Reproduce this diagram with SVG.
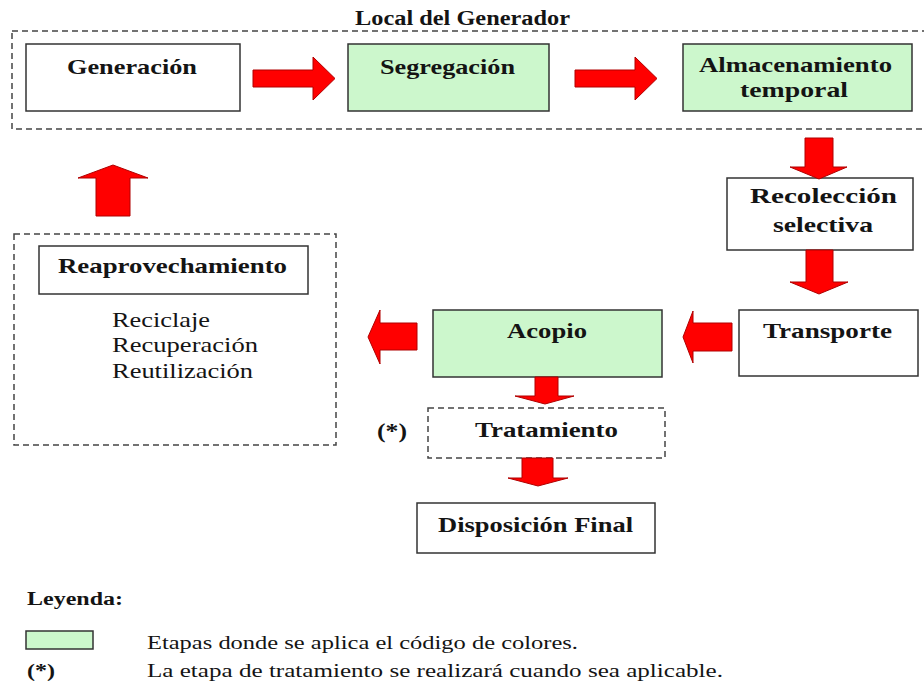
<svg xmlns="http://www.w3.org/2000/svg" width="924" height="688" viewBox="0 0 924 688" font-family="Liberation Serif, Times New Roman, serif">
<style>
.box{fill:#ffffff;stroke:#333333;stroke-width:1.5}
.green{fill:#ccf7cc;stroke:#333333;stroke-width:1.5}
.dash{fill:none;stroke:#444444;stroke-width:1.5;stroke-dasharray:6,4}
.arrow{fill:#ff0000;stroke:#b00000;stroke-width:1}
text{font-family:"Liberation Serif",serif}
.b{font-weight:bold;fill:#141414}
.r{font-weight:normal;fill:#141414}
</style>
<rect width="924" height="688" fill="#ffffff"/>

<g id="local-generador">
<rect class="dash" x="12" y="31" width="916" height="98"/>
<text class="b" x="355" y="25" font-size="20" textLength="215" lengthAdjust="spacingAndGlyphs">Local del Generador</text>
</g>

<g id="generacion">
<rect class="box" x="26" y="44" width="214" height="67"/>
<text class="b" x="67" y="74" font-size="22" textLength="130" lengthAdjust="spacingAndGlyphs">Generación</text>
</g>

<g id="segregacion">
<rect class="green" x="348" y="44" width="201" height="67"/>
<text class="b" x="380" y="74" font-size="22" textLength="135" lengthAdjust="spacingAndGlyphs">Segregación</text>
</g>

<g id="almacenamiento">
<rect class="green" x="683" y="44" width="229" height="67"/>
<text class="b" x="699" y="72" font-size="22" textLength="193" lengthAdjust="spacingAndGlyphs">Almacenamiento</text>
<text class="b" x="740" y="97" font-size="22" textLength="108" lengthAdjust="spacingAndGlyphs">temporal</text>
</g>

<g id="recoleccion">
<rect class="box" x="727" y="178" width="186" height="72"/>
<text class="b" x="750" y="203" font-size="22" textLength="147" lengthAdjust="spacingAndGlyphs">Recolección</text>
<text class="b" x="773" y="232" font-size="22" textLength="100" lengthAdjust="spacingAndGlyphs">selectiva</text>
</g>

<g id="transporte">
<rect class="box" x="739" y="310" width="179" height="66"/>
<text class="b" x="763" y="338" font-size="22" textLength="129" lengthAdjust="spacingAndGlyphs">Transporte</text>
</g>

<g id="acopio">
<rect class="green" x="433" y="310" width="229" height="67"/>
<text class="b" x="507" y="338" font-size="22" textLength="80" lengthAdjust="spacingAndGlyphs">Acopio</text>
</g>

<g id="tratamiento">
<rect class="dash" x="428" y="408" width="237" height="50"/>
<text class="b" x="475" y="437" font-size="22" textLength="143" lengthAdjust="spacingAndGlyphs">Tratamiento</text>
<text class="b" x="377" y="438" font-size="20" textLength="30" lengthAdjust="spacingAndGlyphs">(*)</text>
</g>

<g id="disposicion-final">
<rect class="box" x="417" y="503" width="238" height="50"/>
<text class="b" x="438" y="532" font-size="22" textLength="195" lengthAdjust="spacingAndGlyphs">Disposición Final</text>
</g>

<g id="reaprovechamiento">
<rect class="dash" x="14" y="234" width="322" height="211"/>
<rect class="box" x="39" y="246" width="269" height="48"/>
<text class="b" x="58" y="273" font-size="22" textLength="229" lengthAdjust="spacingAndGlyphs">Reaprovechamiento</text>
<text class="r" x="112" y="327" font-size="21" textLength="98" lengthAdjust="spacingAndGlyphs">Reciclaje</text>
<text class="r" x="112" y="352" font-size="21" textLength="146" lengthAdjust="spacingAndGlyphs">Recuperación</text>
<text class="r" x="112" y="378" font-size="21" textLength="141" lengthAdjust="spacingAndGlyphs">Reutilización</text>
</g>

<g id="connectors">
<polygon class="arrow" points="253,70 313,70 313,57 335,78.5 313,100 313,87 253,87"/>
<polygon class="arrow" points="575,70 635,70 635,57 657,78.5 635,100 635,87 575,87"/>
<polygon class="arrow" points="805,138 833,138 833,167 847,167 819,179 790,167 805,167"/>
<polygon class="arrow" points="806,250 833,250 833,282 848,282 819,294 790,282 806,282"/>
<polygon class="arrow" points="732,323 732,351 693,351 693,363 683,337 693,311 693,323"/>
<polygon class="arrow" points="417,323 417,350 380,350 380,364 368,337 380,310 380,323"/>
<polygon class="arrow" points="535,377 558,377 558,396 574,396 545,404 515,396 535,396"/>
<polygon class="arrow" points="522,458 553,458 553,478 568,478 538,486 508,478 522,478"/>
<polygon class="arrow" points="96,216 96,178 78,178 113,165 148,178 130,178 130,216"/>
</g>

<g id="legend">
<text class="b" x="27" y="605" font-size="18" textLength="96" lengthAdjust="spacingAndGlyphs">Leyenda:</text>
<rect class="green" x="26" y="631" width="67" height="18"/>
<text class="r" x="147" y="649" font-size="18" textLength="431" lengthAdjust="spacingAndGlyphs">Etapas donde se aplica el código de colores.</text>
<text class="b" x="27" y="677" font-size="18" textLength="28" lengthAdjust="spacingAndGlyphs">(*)</text>
<text class="r" x="147" y="677" font-size="18" textLength="576" lengthAdjust="spacingAndGlyphs">La etapa de tratamiento se realizará cuando sea aplicable.</text>
</g>
</svg>
